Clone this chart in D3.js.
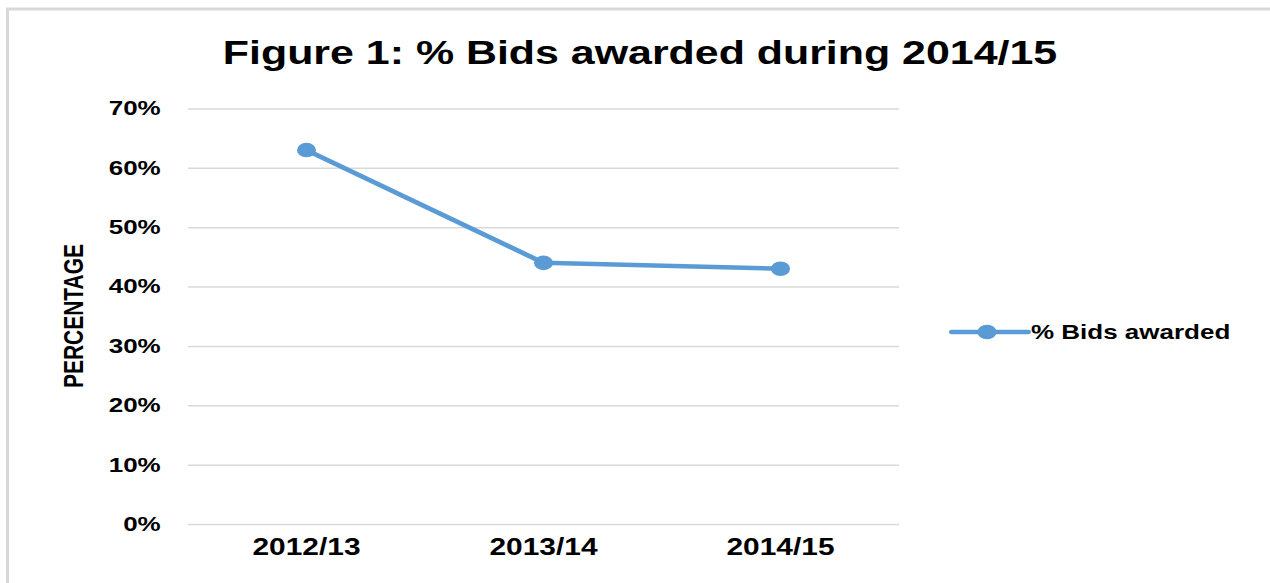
<!DOCTYPE html>
<html>
<head>
<meta charset="utf-8" />
<title>Figure 1</title>
<script src="https://d3js.org/d3.v7.min.js"></script>
<style>
  html, body { margin: 0; padding: 0; background: #fff; }
  svg { display: block; }
  text { font-family: "Liberation Sans", Arial, sans-serif; font-weight: bold; fill: #000; }
</style>
</head>
<body>
<div id="chart"></div>
<script>
// data
const years = ["2012/13", "2013/14", "2014/15"];
const bidsAwarded = [0.63, 0.44, 0.43];
const yTicks = [0, 0.1, 0.2, 0.3, 0.4, 0.5, 0.6, 0.7];
const seriesName = "% Bids awarded";
const titleText = "Figure 1: % Bids awarded during 2014/15";

// the original picture is stretched sideways, so draw in a narrower box and stretch it
const W = 1270, H = 583, sx = 1.3;
const vw = W / sx;

const svg = d3.select("#chart").append("svg")
    .attr("width", W)
    .attr("height", H)
    .attr("viewBox", `0 0 ${vw} ${H}`)
    .attr("preserveAspectRatio", "none");

// frame
svg.append("rect")
    .attr("x", 7.5 / sx).attr("y", 9)
    .attr("width", vw).attr("height", H)
    .attr("fill", "none")
    .attr("stroke", "#d9d9d9")
    .attr("stroke-width", 3)
    .attr("vector-effect", "non-scaling-stroke");

const plotL = 188 / sx, plotR = 899 / sx, plotT = 108.5, plotB = 524;

const x = d3.scaleBand().domain(years).range([plotL, plotR]).padding(0);
const y = d3.scaleLinear().domain([0, 0.7]).range([plotB, plotT]);

// gridlines + y labels
const yAxis = svg.append("g")
    .attr("transform", `translate(${plotL},0)`)
    .call(d3.axisLeft(y).tickValues(yTicks).tickFormat(d3.format(".0%"))
        .tickSize(-(plotR - plotL)).tickPadding(21));
yAxis.select(".domain").remove();
yAxis.selectAll("line")
    .attr("stroke", "#d9d9d9")
    .attr("stroke-width", 1.5);
yAxis.selectAll("text")
    .attr("font-size", 20)
    .attr("fill", "#000")
    .style("font-family", "'Liberation Sans', Arial, sans-serif");

// x labels
const xAxis = svg.append("g")
    .attr("transform", `translate(0,${plotB})`)
    .call(d3.axisBottom(x).tickSize(0).tickPadding(15));
xAxis.select(".domain").remove();
xAxis.selectAll("text")
    .attr("font-size", 23)
    .attr("fill", "#000")
    .style("font-family", "'Liberation Sans', Arial, sans-serif");

// title
svg.append("text")
    .attr("x", 640 / sx).attr("y", 64)
    .attr("text-anchor", "middle")
    .attr("font-size", 33)
    .text(titleText);

// y axis title
svg.append("text")
    .attr("transform", `translate(${83 / sx},${316}) rotate(-90)`)
    .attr("text-anchor", "middle")
    .attr("font-size", 21)
    .text("PERCENTAGE");

const blue = "#5b9bd5";
const cx = d => x(d) + x.bandwidth() / 2;

const line = d3.line()
    .x((d, i) => cx(years[i]))
    .y(d => y(d));

svg.append("path")
    .datum(bidsAwarded)
    .attr("d", line)
    .attr("fill", "none")
    .attr("stroke", blue)
    .attr("stroke-width", 4.5)
    .attr("stroke-linejoin", "round");

svg.selectAll(".dot")
    .data(bidsAwarded)
    .join("circle")
    .attr("class", "dot")
    .attr("cx", (d, i) => cx(years[i]))
    .attr("cy", d => y(d))
    .attr("r", 7.3)
    .attr("fill", blue);

// legend
const lg = svg.append("g");
lg.append("line")
    .attr("x1", 952 / sx).attr("x2", 1028 / sx)
    .attr("y1", 332).attr("y2", 332)
    .attr("stroke", blue).attr("stroke-width", 4.5)
    .attr("stroke-linecap", "round");
lg.append("circle")
    .attr("cx", 987 / sx).attr("cy", 332).attr("r", 7.3)
    .attr("fill", blue);
lg.append("text")
    .attr("x", 1031 / sx).attr("y", 339)
    .attr("font-size", 20)
    .text(seriesName);
</script>
</body>
</html>
